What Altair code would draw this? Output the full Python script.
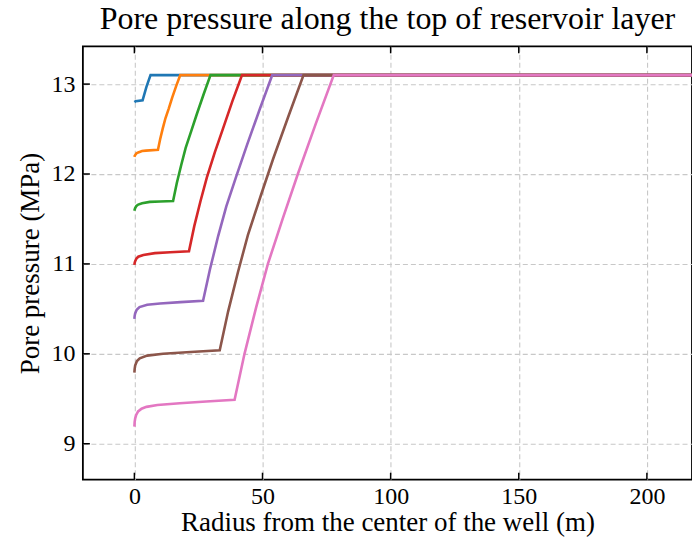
import altair as alt
import pandas as pd

series_names = ["1", "2", "3", "4", "5", "6", "7"]
colors = ["#1f77b4", "#ff7f0e", "#2ca02c", "#d62728", "#9467bd", "#8c564b", "#e377c2"]

x1 = [0, 0.5, 3.2, 4.7, 6.3, 250]
y1 = [12.80, 12.81, 12.82, 12.97, 13.1, 13.1]

x2 = [0, 0.1, 0.3, 0.8, 1.5, 3.0, 4.5, 9.2, 10.07, 11.10, 12.12, 13.44, 14.75, 16.33, 17.9, 250]
y2 = [12.19, 12.20, 12.21, 12.23, 12.24, 12.255, 12.26, 12.27, 12.39, 12.51, 12.62, 12.73, 12.85, 12.98, 13.1, 13.1]

x3 = [0, 0.1, 0.3, 0.8, 1.5, 3.0, 6, 10, 15.1, 16.56, 18.28, 20.01, 22.21, 24.41, 27.06, 29.7, 250]
y3 = [11.59, 11.605, 11.62, 11.645, 11.66, 11.675, 11.69, 11.695, 11.70, 11.90, 12.10, 12.29, 12.48, 12.67, 12.89, 13.1, 13.1]

x4 = [0, 0.1, 0.3, 0.8, 1.5, 3.5, 8, 14, 21.3, 23.37, 25.81, 28.26, 31.38, 34.51, 38.25, 42.0, 250]
y4 = [10.99, 11.01, 11.03, 11.06, 11.08, 11.10, 11.12, 11.13, 11.14, 11.42, 11.70, 11.96, 12.24, 12.50, 12.81, 13.1, 13.1]

x5 = [0, 0.1, 0.3, 0.9, 2, 5, 10, 18, 26.8, 29.5, 32.69, 35.87, 39.95, 44.03, 48.91, 53.8, 250]
y5 = [10.39, 10.42, 10.45, 10.49, 10.52, 10.545, 10.56, 10.575, 10.59, 10.94, 11.31, 11.64, 11.99, 12.33, 12.72, 13.1, 13.1]

x6 = [0, 0.1, 0.3, 1.0, 2.1, 5, 11.2, 22, 33.3, 36.57, 40.43, 44.29, 49.22, 54.16, 60.08, 66.0, 250]
y6 = [9.79, 9.83, 9.87, 9.92, 9.95, 9.98, 10.00, 10.02, 10.04, 10.47, 10.91, 11.32, 11.75, 12.17, 12.64, 13.1, 13.1]

x7 = [0, 0.1, 0.3, 0.7, 1.45, 2.8, 4.7, 9, 17.7, 28, 39.1, 42.97, 47.54, 52.10, 57.95, 63.79, 70.80, 77.8, 250]
y7 = [9.19, 9.24, 9.28, 9.32, 9.36, 9.39, 9.41, 9.43, 9.45, 9.47, 9.49, 10.0, 10.52, 11.0, 11.51, 12.0, 12.56, 13.1, 13.1]

x_ticks = [0, 50, 100, 150, 200]
y_ticks = [9, 10, 11, 12, 13]

all_x = [x1, x2, x3, x4, x5, x6, x7]
all_y = [y1, y2, y3, y4, y5, y6, y7]

rows = []
for name, xs, ys in zip(series_names, all_x, all_y):
    for i, (xv, yv) in enumerate(zip(xs, ys)):
        rows.append({"series": name, "x": xv, "y": yv, "i": i})
df = pd.DataFrame(rows)

FONT = "Liberation Serif"
W, H = 610, 434
xscale = alt.Scale(domain=[-20.1, 217.6], nice=False, zero=False)
yscale = alt.Scale(domain=[8.6, 13.42], nice=False, zero=False)

xaxis = alt.Axis(values=x_ticks, title="Radius from the center of the well (m)",
                 labelPadding=5, titleY=51, titleBaseline="alphabetic")
yaxis = alt.Axis(values=y_ticks, title="Pore pressure (MPa)",
                 labelPadding=8, titleX=-52, titleBaseline="middle")

lines = alt.Chart(df).mark_line(strokeWidth=2.6, clip=True).encode(
    x=alt.X("x:Q", scale=xscale, axis=xaxis),
    y=alt.Y("y:Q", scale=yscale, axis=yaxis),
    color=alt.Color("series:N", scale=alt.Scale(domain=series_names, range=colors), legend=None),
    order=alt.Order("i:Q"),
)

ytick_df = pd.DataFrame({"y": y_ticks})
xtick_df = pd.DataFrame({"x": x_ticks})

left_ticks = alt.Chart(ytick_df).mark_rule(color="black", strokeWidth=1.5).encode(
    y=alt.Y("y:Q", scale=yscale, axis=yaxis),
    x=alt.value(0), x2=alt.value(7),
)
top_ticks = alt.Chart(xtick_df).mark_rule(color="black", strokeWidth=1.5).encode(
    x=alt.X("x:Q", scale=xscale, axis=xaxis),
    y=alt.value(0), y2=alt.value(7),
)
bottom_ticks = alt.Chart(xtick_df).mark_rule(color="black", strokeWidth=1.5).encode(
    x=alt.X("x:Q", scale=xscale, axis=xaxis),
    y=alt.value(H), y2=alt.value(H - 7),
)

chart = alt.layer(lines, left_ticks, top_ticks, bottom_ticks).properties(
    width=W, height=H,
    autosize=alt.AutoSizeParams(type="none"),
    padding={"left": 83, "top": 46, "right": 0, "bottom": 67},
    title=alt.TitleParams("Pore pressure along the top of reservoir layer", font=FONT,
                          fontSize=32, fontWeight="normal", color="black",
                          offset=10, anchor="middle"),
).configure_view(stroke="black", strokeWidth=1.8).configure_axis(
    domain=False, ticks=False, grid=True, gridColor="#c8c8c8", gridDash=[5, 3], gridWidth=1.1,
    labelFont=FONT, labelFontSize=24, labelColor="black",
    titleFont=FONT, titleFontSize=27, titleColor="black", titleFontWeight="normal",
)

chart.save("out.html", embed_options={"renderer": "svg", "actions": False})
